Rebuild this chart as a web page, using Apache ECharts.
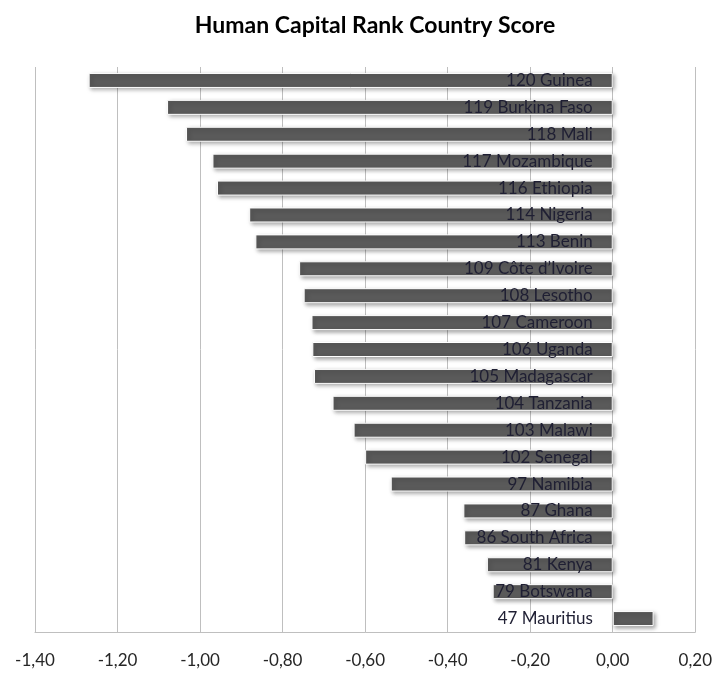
<!DOCTYPE html>
<html>
<head>
<meta charset="utf-8">
<title>Human Capital Rank Country Score</title>
<script src="https://cdn.jsdelivr.net/npm/echarts@6/dist/echarts.min.js"></script>
<style>
  html, body { margin: 0; padding: 0; background: #fff; }
  #chart { width: 715px; height: 673px; }
</style>
</head>
<body>
<div id="chart"></div>
<script>
// countries, top to bottom as in the picture
const countries = [
  '120 Guinea', '119 Burkina Faso', '118 Mali', '117 Mozambique', '116 Ethiopia',
  '114 Nigeria', '113 Benin', '109 Côte d\u2019Ivoire', '108 Lesotho', '107 Cameroon',
  '106 Uganda', '105 Madagascar', '104 Tanzania', '103 Malawi', '102 Senegal',
  '97 Namibia', '87 Ghana', '86 South Africa', '81 Kenya', '79 Botswana', '47 Mauritius'
]
// score
const scores = [
  -1.27, -1.08, -1.034, -0.97, -0.959,
  -0.881, -0.866, -0.76, -0.749, -0.73,
  -0.728, -0.724, -0.679, -0.628, -0.60,
  -0.538, -0.362, -0.36, -0.305, -0.291, 0.099
]
// x axis
const xMin = -1.4
const xMax = 0.2
const xStep = 0.2

const font = 'Lato, "Open Sans", sans-serif'

// country names sit just left of the zero line, like excel's axis labels
const barData = scores.map(v => v < 0 ? v : {
  value: v,
  label: { position: 'left' }
})

const chart = echarts.init(document.getElementById('chart'))
chart.setOption({
  animation: false,
  title: {
    text: 'Human Capital Rank Country Score',
    left: 370,
    top: 9,
    textAlign: 'center',
    textStyle: { fontFamily: font, fontSize: 23, fontWeight: 'bold', color: '#000' }
  },
  grid: { left: 35, right: 19, top: 67, bottom: 41 },
  xAxis: {
    type: 'value',
    min: xMin,
    max: xMax,
    interval: xStep,
    axisLine: { show: true, lineStyle: { color: '#bfbfbf' } },
    axisTick: { show: false },
    splitLine: { show: true, lineStyle: { color: '#bfbfbf', width: 1 } },
    axisLabel: {
      margin: 20,
      fontFamily: font,
      fontSize: 17,
      color: '#262626',
      formatter: v => v.toFixed(2).replace('.', ',')
    }
  },
  yAxis: {
    type: 'category',
    data: countries,
    inverse: true,
    axisLine: { show: false },
    axisTick: { show: false },
    axisLabel: { show: false }
  },
  series: [
    {
      type: 'bar',
      data: barData,
      barWidth: 15,
      itemStyle: {
        color: '#5a5a5a',
        borderColor: '#ffffff',
        borderWidth: 1,
        shadowColor: 'rgba(0, 0, 0, 0.35)',
        shadowBlur: 4,
        shadowOffsetX: 2,
        shadowOffsetY: 2
      },
      label: {
        show: true,
        position: 'insideRight',
        distance: 20,
        formatter: '{b}',
        fontFamily: font,
        fontSize: 17,
        color: '#1f1f33'
      }
    }
  ]
})
</script>
</body>
</html>
